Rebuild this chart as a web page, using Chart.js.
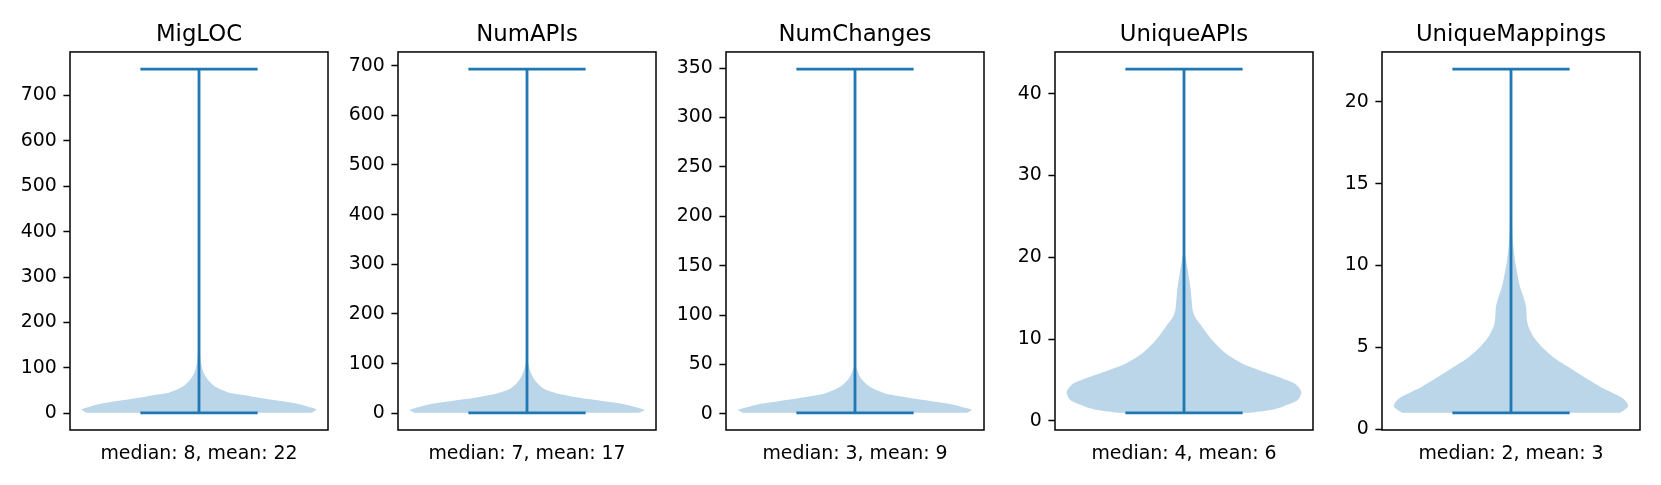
<!DOCTYPE html>
<html>
<head>
<meta charset="utf-8">
<script src="https://cdn.jsdelivr.net/npm/chart.js@4.4.0/dist/chart.umd.min.js"></script>
<style>
html, body { margin:0; padding:0; background:#fff; }
#wrap { position:relative; width:1661px; height:485px; overflow:hidden; }
#wrap canvas { position:absolute; top:0; }
</style>
</head>
<body>
<div id="wrap"></div>
<script>
// one violin per panel
var titles = ['MigLOC', 'NumAPIs', 'NumChanges', 'UniqueAPIs', 'UniqueMappings'];
var medians = [8, 7, 3, 4, 2];
var means = [22, 17, 9, 6, 3];
var mins = [1, 1, 1, 1, 1];
var maxes = [758, 693, 349, 43, 22];

var yTicks = [
	[0, 100, 200, 300, 400, 500, 600, 700],
	[0, 100, 200, 300, 400, 500, 600, 700],
	[0, 50, 100, 150, 200, 250, 300, 350],
	[0, 10, 20, 30, 40],
	[0, 5, 10, 15, 20]
];

// violin outline : value and relative half width (1 = widest)
var migLocY = [1, 4, 8.8, 14.6, 22, 33, 40.3, 46, 58.7, 77, 95.5, 117.5, 147, 180];
var migLocW = [0.96, 0.98, 1.0, 0.93, 0.82, 0.54, 0.38, 0.25, 0.137, 0.066, 0.031, 0.014, 0.006, 0];

var numApisY = [1, 3.5, 6.6, 12, 18.7, 28.2, 34, 40.3, 50.4, 67, 84, 101, 110];
var numApisW = [0.96, 0.98, 1.0, 0.93, 0.82, 0.54, 0.38, 0.25, 0.137, 0.066, 0.029, 0.011, 0];

var numChangesY = [1, 2.5, 4.0, 6.5, 9.8, 14.8, 17.8, 20.9, 27.6, 36, 42.8, 48, 52];
var numChangesW = [0.96, 0.98, 1.0, 0.93, 0.82, 0.54, 0.38, 0.25, 0.123, 0.051, 0.023, 0.008, 0];

var uniqueApisY = [1, 1.34, 1.75, 2.56, 3.58, 4.6, 5.8, 7.0, 8.27, 9.9, 11.5, 12.7, 13.55, 14.8, 16.4, 18.0, 19.7, 20.5, 21.5];
var uniqueApisW = [0.56, 0.74, 0.84, 0.97, 1.0, 0.94, 0.72, 0.50, 0.355, 0.24, 0.156, 0.094, 0.074, 0.065, 0.054, 0.037, 0.017, 0.008, 0];

var uniqueMapY = [1, 1.18, 1.42, 1.79, 2.1, 2.6, 3.2, 3.8, 4.4, 5.05, 5.66, 6.27, 6.67, 7.49, 8.1, 8.7, 9.5, 10.3, 11.15, 12.2, 13.5, 15, 16];
var uniqueMapW = [0.93, 0.97, 1.0, 0.97, 0.90, 0.76, 0.62, 0.49, 0.36, 0.26, 0.19, 0.148, 0.136, 0.128, 0.105, 0.077, 0.054, 0.034, 0.02, 0.011, 0.006, 0.003, 0];

var densityY = [migLocY, numApisY, numChangesY, uniqueApisY, uniqueMapY];
var densityW = [migLocW, numApisW, numChangesW, uniqueApisW, uniqueMapW];

// layout : left edge of each plot box
var panelLeft = [70, 398, 726, 1055, 1382];
var boxWidth = 258;
var axisWidth = 70;

var lineColor = '#1f77b4';
var bodyColor = 'rgba(31,119,180,0.3)';

Chart.defaults.font.family = 'DejaVu Sans';
Chart.defaults.color = '#000';

// box around the plot area (all four spines)
var framePlugin = {
	id : 'frame',
	afterDraw : function(chart){
		var a = chart.chartArea;
		var ctx = chart.ctx;
		ctx.save();
		ctx.strokeStyle = '#000';
		ctx.lineWidth = 1.5;
		ctx.strokeRect(a.left, a.top, a.right - a.left, a.bottom - a.top);
		ctx.restore();
	}
};

// closed outline : right side going up, left side coming down
function makeOutline(ys, ws){
	var pts = [];
	for(var k=0; k<ys.length; k++){
		pts.push({x : 1 + 0.25*ws[k], y : ys[k]});
	}
	for(var k=ys.length-1; k>=0; k--){
		pts.push({x : 1 - 0.25*ws[k], y : ys[k]});
	}
	return pts;
}

function makeViolin(i){
	var canvas = document.createElement('canvas');
	canvas.width = axisWidth + boxWidth + 2;
	canvas.height = 485;
	canvas.style.left = (panelLeft[i] - axisWidth) + 'px';
	canvas.style.width = canvas.width + 'px';
	canvas.style.height = canvas.height + 'px';
	document.getElementById('wrap').appendChild(canvas);

	var lo = mins[i], hi = maxes[i];
	var margin = (hi - lo)*0.05;
	var lineSet = {
		showLine : true,
		borderColor : lineColor,
		borderWidth : 2.8,
		pointRadius : 0,
		pointHitRadius : 0,
		fill : false
	};

	var chartData = {
		datasets : [
			Object.assign({data : [{x:1, y:lo}, {x:1, y:hi}]}, lineSet),
			Object.assign({data : [{x:0.875, y:lo}, {x:1.125, y:lo}]}, lineSet),
			Object.assign({data : [{x:0.875, y:hi}, {x:1.125, y:hi}]}, lineSet),
			{
				data : makeOutline(densityY[i], densityW[i]),
				showLine : true,
				borderWidth : 0,
				borderColor : 'rgba(0,0,0,0)',
				backgroundColor : bodyColor,
				pointRadius : 0,
				pointHitRadius : 0,
				tension : 0.25,
				fill : 'shape'
			}
		]
	};

	new Chart(canvas.getContext('2d'), {
		type : 'scatter',
		data : chartData,
		options : {
			responsive : false,
			maintainAspectRatio : false,
			devicePixelRatio : 1,
			animation : false,
			events : [],
			layout : { padding : {left:0, right:2, top:0, bottom:0} },
			plugins : {
				legend : { display : false },
				tooltip : { enabled : false },
				title : {
					display : true,
					fullSize : false, // centre over the plot box, not the canvas
					text : titles[i],
					color : '#000',
					font : { size : 22.8, weight : 'normal' },
					padding : { top : 21, bottom : 3.6 }
				}
			},
			scales : {
				x : {
					type : 'linear',
					min : 0.725,
					max : 1.275,
					ticks : { display : false },
					grid : { display : false },
					border : { display : false },
					title : {
						display : true,
						text : 'median: ' + medians[i] + ', mean: ' + means[i],
						color : '#000',
						font : { size : 18.9 },
						padding : { top : 0, bottom : 20 }
					},
					afterFit : function(scale){ scale.height = 55; }
				},
				y : {
					type : 'linear',
					min : lo - margin,
					max : hi + margin,
					afterBuildTicks : function(scale){
						scale.ticks = yTicks[i].map(function(v){ return {value : v}; });
					},
					ticks : { color : '#000', font : { size : 18.9 }, padding : 6.6 },
					grid : {
						display : true,
						drawOnChartArea : false,
						drawTicks : true,
						tickLength : 6.6,
						tickWidth : 1.5,
						tickColor : '#000'
					},
					border : { display : false },
					afterFit : function(scale){ scale.width = axisWidth; }
				}
			}
		},
		plugins : [framePlugin]
	});
}

for(var i=0; i<titles.length; i++){
	makeViolin(i);
}
</script>
</body>
</html>
